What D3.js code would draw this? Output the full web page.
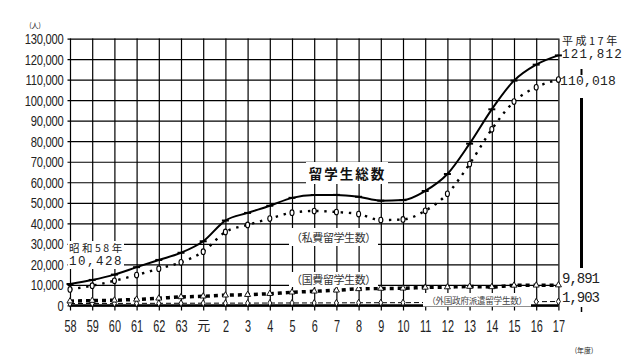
<!DOCTYPE html>
<html><head><meta charset="utf-8">
<script src="https://cdn.jsdelivr.net/npm/d3@7/dist/d3.min.js"></script>
<style>
html,body{margin:0;padding:0;background:#fff;}
svg{display:block;}
</style></head>
<body>
<svg id="c" width="640" height="360"></svg>
<script>
const years = ["58","59","60","61","62","63","元","2","3","4","5","6","7","8","9","10","11","12","13","14","15","16","17"];
const totalStudents = [10428,12410,15009,18631,22154,25643,31251,41347,45066,48561,52405,53787,53847,52921,51047,51298,55755,64011,78812,95550,109508,117302,121812];
const privateStudents = [7800,9600,12000,14800,17900,21000,26200,35800,39200,42300,45200,46000,45500,44500,41600,41900,46100,54400,68900,85800,99300,106300,110018];
const govStudents = [2082,2345,2502,2927,3458,4118,4465,4961,5219,5699,6408,6880,7371,8051,8250,8323,8774,8930,9173,9009,9746,9804,9891];
const foreignGovStudents = [900,950,980,1000,1020,1050,1080,1100,1120,1150,1180,1200,1230,1270,1300,1320,1400,1450,1500,1600,1700,1800,1903];
const yTicks = d3.range(0, 130001, 10000);

const svg = d3.select("#c");
const x = d3.scalePoint().domain(years).range([70, 558.4]);
const y = d3.scaleLinear().domain([0, 130000]).range([305.4, 38.6]);
const numFont = "'Liberation Sans', Arial, sans-serif";
const cjk = "'Noto Sans CJK JP', sans-serif";
const mono = "'Liberation Mono', 'DejaVu Sans Mono', monospace";

// horizontal grid + y labels
const ya = svg.append("g").attr("transform", "translate(67.5,0)")
  .call(d3.axisLeft(y).tickValues(yTicks).tickFormat(d3.format(","))
    .tickSizeInner(-(558.4 - 67.5)).tickSizeOuter(0).tickPadding(5));
ya.select(".domain").remove();
ya.selectAll(".tick line").attr("stroke", "#000").attr("stroke-width", 1.2);
ya.selectAll(".tick text").attr("fill", "#222").attr("font-family", numFont)
  .attr("font-size", 14).attr("letter-spacing", "-0.3")
  .attr("transform", "scale(0.8,1)").attr("dy", "0.35em");

// vertical grid + x labels
const xa = svg.append("g").attr("transform", "translate(0,38.6)")
  .call(d3.axisBottom(x).tickSizeInner(305.4 - 38.6 + 5).tickSizeOuter(0).tickPadding(10));
xa.select(".domain").remove();
xa.selectAll(".tick line").attr("stroke", "#000").attr("stroke-width", 1.2);
xa.selectAll(".tick text").attr("fill", "#222")
  .attr("font-family", d => d === "元" ? cjk : numFont)
  .attr("font-size", d => d === "元" ? 13 : 16)
  .attr("transform", d => d === "元" ? null : "scale(0.68,1)");

// thick baseline
svg.append("line").attr("x1", 70).attr("x2", 558.4).attr("y1", y(0)).attr("y2", y(0))
  .attr("stroke", "#000").attr("stroke-width", 2.5);

// right-side bar artifacts
svg.append("line").attr("x1", 581.5).attr("x2", 581.5).attr("y1", 69).attr("y2", 75).attr("stroke", "#000").attr("stroke-width", 2);
svg.append("line").attr("x1", 581.5).attr("x2", 581.5).attr("y1", 98).attr("y2", 268).attr("stroke", "#000").attr("stroke-width", 3);
svg.append("line").attr("x1", 581.5).attr("x2", 581.5).attr("y1", 307).attr("y2", 312).attr("stroke", "#000").attr("stroke-width", 1.5);

const line = d3.line().x((d, i) => x(years[i])).y(d => y(d)).curve(d3.curveMonotoneX);

svg.append("path").datum(foreignGovStudents).attr("d", line).attr("fill", "none")
  .attr("stroke", "#000").attr("stroke-width", 1).attr("stroke-dasharray", "5,3");
svg.append("path").datum(govStudents).attr("d", line).attr("fill", "none")
  .attr("stroke", "#000").attr("stroke-width", 3.5).attr("stroke-dasharray", "4,4");
svg.append("path").datum(privateStudents).attr("d", line).attr("fill", "none")
  .attr("stroke", "#000").attr("stroke-width", 2.4).attr("stroke-dasharray", "2.4,5.8");
svg.append("path").datum(totalStudents).attr("d", line).attr("fill", "none")
  .attr("stroke", "#000").attr("stroke-width", 2);

svg.append("g").selectAll("path").data(foreignGovStudents).join("path")
  .attr("d", d3.symbol(d3.symbolDiamond, 14)).attr("transform", (d, i) => `translate(${x(years[i])},${y(d)})`)
  .attr("fill", "#fff").attr("stroke", "#000").attr("stroke-width", 0.9);
svg.append("g").selectAll("path").data(govStudents).join("path")
  .attr("d", d3.symbol(d3.symbolTriangle, 16)).attr("transform", (d, i) => `translate(${x(years[i])},${y(d)})`)
  .attr("fill", "#fff").attr("stroke", "#000").attr("stroke-width", 0.9);
svg.append("g").selectAll("ellipse").data(privateStudents).join("ellipse")
  .attr("cx", (d, i) => x(years[i])).attr("cy", d => y(d)).attr("rx", 2).attr("ry", 2.8)
  .attr("fill", "#fff").attr("stroke", "#000").attr("stroke-width", 1.1);
svg.append("g").selectAll("line").data(totalStudents).join("line")
  .attr("x1", (d, i) => x(years[i]) - 3.5).attr("x2", (d, i) => x(years[i]) + 3.5)
  .attr("y1", d => y(d)).attr("y2", d => y(d))
  .attr("stroke", "#000").attr("stroke-width", 2);

function box(x0, y0, w, h) {
  svg.append("rect").attr("x", x0).attr("y", y0).attr("width", w).attr("height", h).attr("fill", "#fff");
}
function label(t, cx, cy, opts) {
  return svg.append("text").attr("x", cx).attr("y", cy).attr("dominant-baseline", "central")
    .attr("text-anchor", opts.anchor || "start").attr("font-family", opts.font || cjk)
    .attr("font-size", opts.size).attr("fill", opts.fill || "#222")
    .attr("letter-spacing", opts.ls || 0).attr("font-weight", opts.weight || "normal").text(t);
}

box(306, 162, 82, 22);
label("留学生総数", 347.5, 173, {size: 13.5, ls: 2, anchor: "middle", weight: "bold", fill: "#111"});
box(289, 228, 89, 18);
label("（私費留学生数）", 333.5, 237, {size: 11, ls: -0.4, anchor: "middle", fill: "#333"});
box(289, 272, 89, 15);
label("（国費留学生数）", 333.5, 279, {size: 11, ls: -0.4, anchor: "middle", fill: "#333"});
box(423, 293, 108, 13.5);
label("（外国政府派遣留学生数）", 477, 300, {size: 8.6, ls: -0.3, anchor: "middle", fill: "#444"});

box(68, 241, 56, 28);
label("昭和58年", 69, 247, {size: 10.5, ls: 2.5});
label("10,428", 69, 262, {size: 12.5, ls: 1.5, font: mono});

label("平成17年", 562, 39.5, {size: 11, ls: 2.5});
label("121,812", 562, 54.5, {size: 12.5, ls: 1.2, font: mono});
label("110,018", 560, 81, {size: 13, ls: 0.2, font: mono});
label("9,891", 562, 279, {size: 14, ls: -1, font: mono});
label("1,903", 562, 298, {size: 14, ls: -1, font: mono});

label("(人)", 35, 25, {size: 7, anchor: "middle"});
label("(年度)", 584, 350, {size: 7, anchor: "middle"});
</script>
</body></html>
